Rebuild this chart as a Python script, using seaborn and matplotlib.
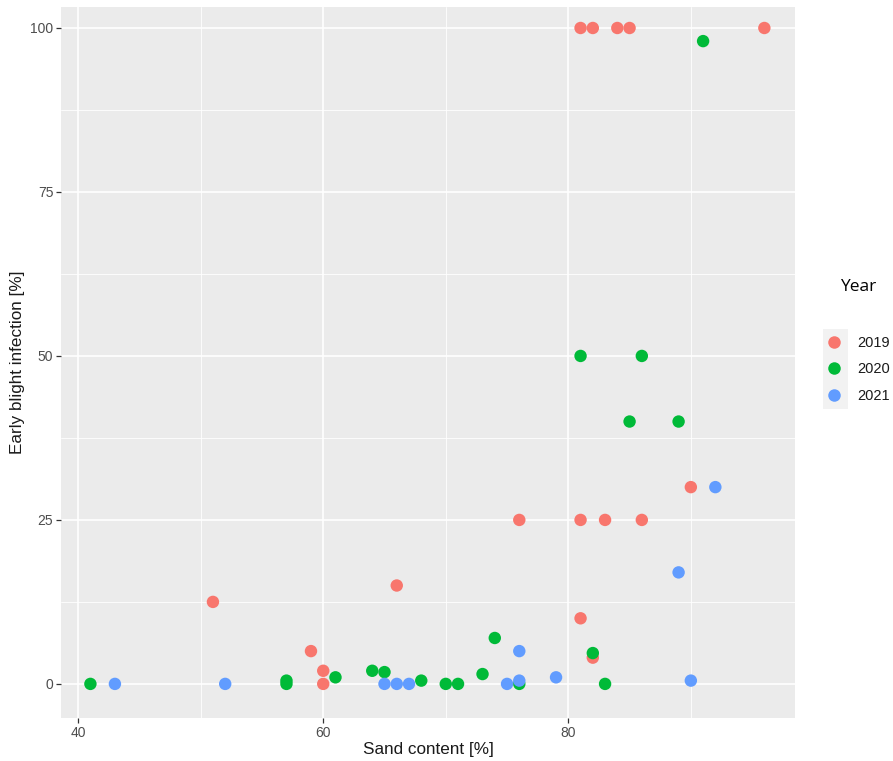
import seaborn as sns
import matplotlib.pyplot as plt
import pandas as pd
from matplotlib.patches import Rectangle
from matplotlib.ticker import MultipleLocator

# Sand content vs early blight infection, per year
sand_2019 = [51, 59, 60, 60, 66, 76, 81, 81, 82, 83, 86, 90, 81, 82, 84, 85, 96]
blight_2019 = [12.5, 5, 2, 0, 15, 25, 10, 25, 4, 25, 25, 30, 100, 100, 100, 100, 100]

sand_2020 = [41, 57, 57, 61, 64, 65, 68, 70, 71, 73, 74, 76, 82, 83, 81, 86, 85, 89, 91]
blight_2020 = [0, 0.5, 0, 1, 2, 1.8, 0.5, 0, 0, 1.5, 7, 0, 4.7, 0, 50, 50, 40, 40, 98]

sand_2021 = [43, 52, 65, 66, 67, 75, 76, 76, 79, 89, 90, 92]
blight_2021 = [0, 0, 0, 0, 0, 0, 0.5, 5, 1, 17, 0.5, 30]

years = ['2019', '2020', '2021']
colors = ['#F8766D', '#00BA38', '#619CFF']

df = pd.concat([
    pd.DataFrame({'sand': sand_2019, 'blight': blight_2019, 'Year': '2019'}),
    pd.DataFrame({'sand': sand_2020, 'blight': blight_2020, 'Year': '2020'}),
    pd.DataFrame({'sand': sand_2021, 'blight': blight_2021, 'Year': '2021'}),
])

sns.set_theme(style='darkgrid')
plt.rcParams['font.family'] = ['Liberation Sans', 'DejaVu Sans']

fig = plt.figure(figsize=(8.93, 7.61), dpi=100)
ax = fig.add_axes([61 / 893, 43 / 761, 734 / 893, 711 / 761])
ax.set_facecolor('#EBEBEB')

sns.scatterplot(data=df, x='sand', y='blight', hue='Year', hue_order=years,
                palette=colors, s=80, linewidth=0, ax=ax, legend=False, zorder=3)

ax.set_xlim(38.6, 98.5)
ax.set_ylim(-5.2, 103.2)
ax.xaxis.set_major_locator(MultipleLocator(20))
ax.xaxis.set_minor_locator(MultipleLocator(10))
ax.yaxis.set_major_locator(MultipleLocator(25))
ax.yaxis.set_minor_locator(MultipleLocator(12.5))
ax.grid(which='major', color='white', linewidth=1.2)
ax.grid(which='minor', color='white', linewidth=0.6)
ax.set_axisbelow(True)
for sp in ax.spines.values():
    sp.set_visible(False)
ax.tick_params(which='major', bottom=True, left=True, length=3.5, width=0.9,
               color='#333333', labelsize=10, labelcolor='#4D4D4D', pad=2)
ax.tick_params(which='minor', bottom=False, left=False, length=0)

ax.set_xlabel('Sand content [%]', fontsize=12.3, color='#1A1A1A', labelpad=2)
ax.set_ylabel('Early blight infection [%]', fontsize=12.3, color='#1A1A1A', labelpad=4)

# legend in ggplot style, outside the panel
handles = [plt.Line2D([0], [0], marker='o', linestyle='', markerfacecolor=c,
                      markeredgewidth=0, markersize=9) for c in colors]
fig.patches.append(Rectangle((823 / 893, 1 - 409 / 761), 25 / 893, 80 / 761,
                             transform=fig.transFigure, facecolor='#F2F2F2',
                             edgecolor='none', zorder=0))
fig.legend(handles=handles, labels=years, loc='upper left',
           bbox_to_anchor=(817 / 893, 1 - 330 / 761), frameon=False,
           fontsize=10.5, labelspacing=0.85, handletextpad=0.85, borderaxespad=0,
           handlelength=1.5, labelcolor='#1A1A1A')
fig.text(858 / 893, 1 - 287 / 761, 'Year', fontsize=12.5, ha='center', va='center',
         family=['Open Sans', 'DejaVu Sans'], color='black')

fig.savefig('out.png', dpi=100)
